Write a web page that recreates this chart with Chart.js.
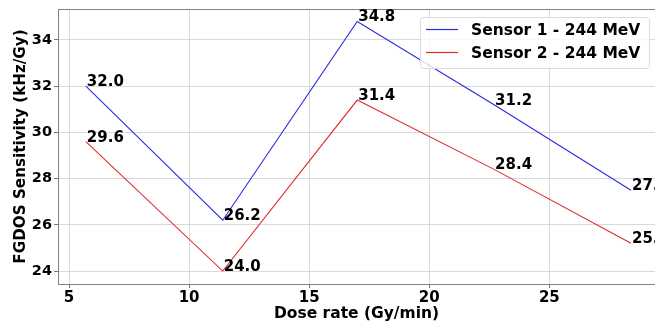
<!DOCTYPE html>
<html>
<head>
<meta charset="utf-8">
<script src="https://cdn.jsdelivr.net/npm/chart.js@4/dist/chart.umd.min.js"></script>
<style>
  html, body { margin: 0; padding: 0; background: #fff; }
  #wrap { width: 655px; height: 324px; }
</style>
</head>
<body>
<div id="wrap"><canvas id="chart"></canvas></div>
<script>
// dados
const doseRates = [5.7, 11.4, 17.0, 22.7, 28.4];
const sensor1 = [32.0, 26.2, 34.8, 31.2, 27.5];
const sensor2 = [29.6, 24.0, 31.4, 28.4, 25.2];
const seriesLabels = ['Sensor 1 - 244 MeV', 'Sensor 2 - 244 MeV'];
const xTicks = [5, 10, 15, 20, 25];
const yTicks = [24, 26, 28, 30, 32, 34];

const FONT = "'DejaVu Sans', sans-serif";

const toPoints = (ys) => doseRates.map((x, i) => ({ x: x, y: ys[i] }));

// rótulos de valor em cada ponto (texto à direita, linha de base no ponto)
const valueLabels = {
    id: 'valueLabels',
    afterDatasetsDraw(chart) {
        const ctx = chart.ctx;
        ctx.save();
        ctx.font = `bold 15px ${FONT}`;
        ctx.fillStyle = '#000';
        ctx.textAlign = 'left';
        ctx.textBaseline = 'alphabetic';
        chart.data.datasets.forEach((ds, di) => {
            chart.getDatasetMeta(di).data.forEach((pt, i) => {
                ctx.fillText(ds.data[i].y.toFixed(1), pt.x + 1, pt.y);
            });
        });
        ctx.restore();
    }
};

// legenda dentro da área do gráfico (canto superior direito)
const innerLegend = {
    id: 'innerLegend',
    afterDraw(chart) {
        const ctx = chart.ctx;
        const x0 = 420, y0 = 17, w = 229, h = 51;
        ctx.save();
        ctx.fillStyle = 'rgba(255,255,255,0.8)';
        ctx.strokeStyle = '#dcdcdc';
        ctx.lineWidth = 1;
        ctx.beginPath();
        ctx.roundRect(x0 + 0.5, y0 + 0.5, w, h, 3);
        ctx.fill();
        ctx.stroke();
        ctx.font = `bold 15.5px ${FONT}`;
        ctx.textBaseline = 'middle';
        chart.data.datasets.forEach((ds, i) => {
            const yy = 29.5 + i * 23;
            ctx.strokeStyle = ds.borderColor;
            ctx.lineWidth = 1.2;
            ctx.beginPath();
            ctx.moveTo(426, yy);
            ctx.lineTo(458, yy);
            ctx.stroke();
            ctx.fillStyle = '#000';
            ctx.fillText(ds.label, 471, yy + 1);
        });
        ctx.restore();
    }
};

// moldura superior (spine)
const frame = {
    id: 'frame',
    beforeDatasetsDraw(chart) {
        const { ctx, chartArea: a } = chart;
        ctx.save();
        ctx.strokeStyle = '#808080';
        ctx.lineWidth = 1;
        ctx.beginPath();
        ctx.moveTo(a.left, a.top + 0.5);
        ctx.lineTo(a.right, a.top + 0.5);
        ctx.stroke();
        ctx.restore();
    }
};

const noPad = s => { s.paddingTop = 0; s.paddingBottom = 0; s.paddingLeft = 0; s.paddingRight = 0; };

new Chart(document.getElementById('chart'), {
    type: 'scatter',
    data: {
        datasets: [
            {
                label: seriesLabels[0],
                data: toPoints(sensor1),
                borderColor: '#2a2ae0',
                borderWidth: 1.1,
                showLine: true,
                pointRadius: 0,
                tension: 0
            },
            {
                label: seriesLabels[1],
                data: toPoints(sensor2),
                borderColor: '#e02a2a',
                borderWidth: 1.1,
                showLine: true,
                pointRadius: 0,
                tension: 0
            }
        ]
    },
    options: {
        responsive: true,
        maintainAspectRatio: false,
        animation: false,
        layout: { padding: { top: 9, right: 0, left: 0, bottom: 0 } },
        scales: {
            x: {
                type: 'linear',
                min: 4.54,
                max: 29.4,
                afterBuildTicks: s => { s.ticks = xTicks.map(v => ({ value: v })); },
                afterFit: s => { s.height = 40; noPad(s); },
                ticks: {
                    font: { family: FONT, size: 15, weight: 'bold' },
                    color: '#000',
                    padding: 1,
                    maxRotation: 0
                },
                grid: { color: '#d9d9d9', tickColor: '#777', tickLength: 4 },
                border: { color: '#808080' },
                title: {
                    display: true,
                    text: 'Dose rate (Gy/min)',
                    font: { family: FONT, size: 15.5, weight: 'bold' },
                    color: '#000',
                    padding: { top: 0, bottom: 1 }
                }
            },
            y: {
                min: 23.44,
                max: 35.34,
                afterBuildTicks: s => { s.ticks = yTicks.map(v => ({ value: v })); },
                afterFit: s => { s.width = 58; noPad(s); },
                ticks: {
                    font: { family: FONT, size: 14.5, weight: 'bold' },
                    color: '#000',
                    padding: 2
                },
                grid: { color: '#d9d9d9', tickColor: '#777', tickLength: 4 },
                border: { color: '#808080' },
                title: {
                    display: true,
                    text: 'FGDOS Sensitivity (kHz/Gy)',
                    font: { family: FONT, size: 15.2, weight: 'bold' },
                    color: '#000',
                    padding: { top: 12, bottom: 0 }
                }
            }
        },
        plugins: {
            legend: { display: false },
            tooltip: { enabled: false }
        }
    },
    plugins: [frame, valueLabels, innerLegend]
});
</script>
</body>
</html>
